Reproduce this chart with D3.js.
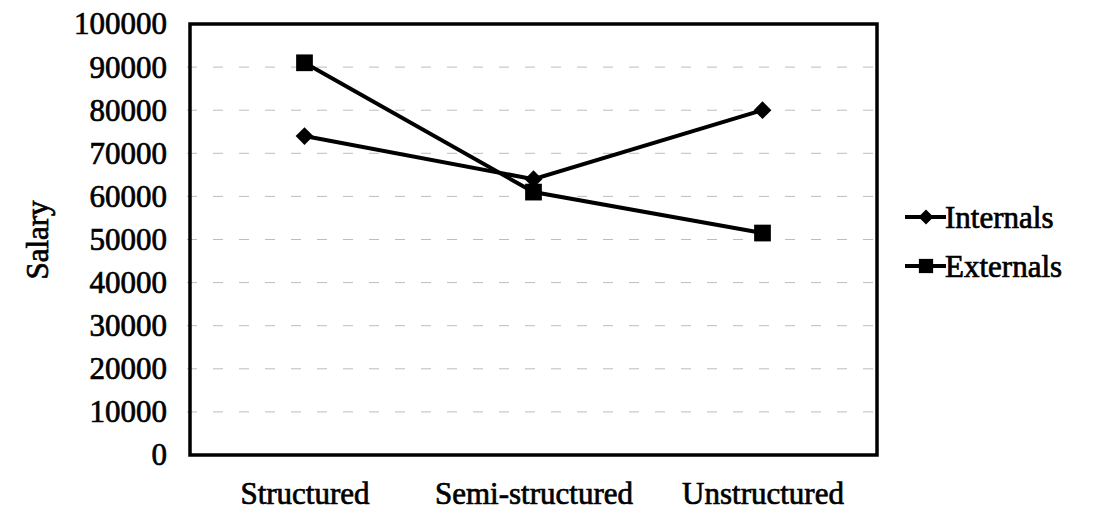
<!DOCTYPE html>
<html><head><meta charset="utf-8">
<script src="https://cdn.jsdelivr.net/npm/d3@7"></script>
<style>body{margin:0;background:#fff;} svg{display:block;} text{font-family:"Times New Roman","Liberation Serif","DejaVu Serif",serif;}</style>
</head><body>
<svg id="chart" width="1098" height="516"></svg>
<script>
const categories = ["Structured", "Semi-structured", "Unstructured"];
const internals = [74000, 64000, 80000];
const externals = [91000, 61000, 51500];
const seriesNames = ["Internals", "Externals"];
const yTicks = [0,10000,20000,30000,40000,50000,60000,70000,80000,90000,100000];

const svg = d3.select("#chart");
const m = {left:190, top:24, right:877, bottom:455};

const x = d3.scalePoint().domain(categories).range([m.left, m.right]).padding(0.5);
const y = d3.scaleLinear().domain([0,100000]).range([m.bottom, m.top]);

function styleText(sel, size){
  return sel.attr("font-family", null).style("font-size", size + "px").attr("fill","#000")
     .attr("stroke","#000").attr("stroke-width",0.7);
}

// gridlines
svg.append("g").selectAll("line").data(yTicks.filter(t=>t>0 && t<100000)).join("line")
  .attr("x1", m.left-3).attr("x2", m.right)
  .attr("y1", d=>y(d)).attr("y2", d=>y(d))
  .attr("stroke", "#bdbdbd").attr("stroke-width", 1).attr("stroke-dasharray", "10,16");

// frame
svg.append("rect").attr("x", m.left).attr("y", m.top)
  .attr("width", m.right-m.left).attr("height", m.bottom-m.top)
  .attr("fill","none").attr("stroke","#000").attr("stroke-width",3.5);

// y axis labels
const yAxis = d3.axisLeft(y).tickValues(yTicks).tickSize(0).tickPadding(23).tickFormat(d3.format("d"));
const ya = svg.append("g").attr("transform", `translate(${m.left},0)`).call(yAxis);
ya.attr("font-family", null).attr("font-size", null);
ya.select(".domain").remove();
styleText(ya.selectAll("text"), 31);

// x axis labels
const xAxis = d3.axisBottom(x).tickSize(0).tickPadding(27);
const xa = svg.append("g").attr("transform", `translate(0,${m.bottom})`).call(xAxis);
xa.attr("font-family", null).attr("font-size", null);
xa.select(".domain").remove();
styleText(xa.selectAll("text"), 31);

// y title
styleText(svg.append("text").attr("transform","translate(48,240) rotate(-90)")
  .attr("text-anchor","middle"), 31).text("Salary");

const line = d3.line().x((d,i)=>x(categories[i])).y(d=>y(d));
const diamond = d3.symbol().type(d3.symbolDiamond2).size(200);
const square = d3.symbol().type(d3.symbolSquare).size(280);

const series = [{name:seriesNames[0], vals:internals, sym:diamond},
                {name:seriesNames[1], vals:externals, sym:square}];

series.forEach(s=>{
  svg.append("path").datum(s.vals).attr("d", line).attr("fill","none").attr("stroke","#000").attr("stroke-width",4);
  svg.append("g").selectAll("path").data(s.vals).join("path")
    .attr("d", s.sym)
    .attr("transform",(d,i)=>`translate(${x(categories[i])},${y(d)})`)
    .attr("fill","#000");
});

// legend
const lg = svg.append("g");
series.forEach((s,i)=>{
  const ly = 217 + i*49;
  lg.append("line").attr("x1",905).attr("x2",946).attr("y1",ly).attr("y2",ly).attr("stroke","#000").attr("stroke-width",4);
  lg.append("path").attr("d", s.sym).attr("transform",`translate(926,${ly}) scale(0.85)`).attr("fill","#000");
  styleText(lg.append("text").attr("x",945).attr("y",ly).attr("dy","0.35em"), 31).text(s.name);
});
</script>
</body></html>
